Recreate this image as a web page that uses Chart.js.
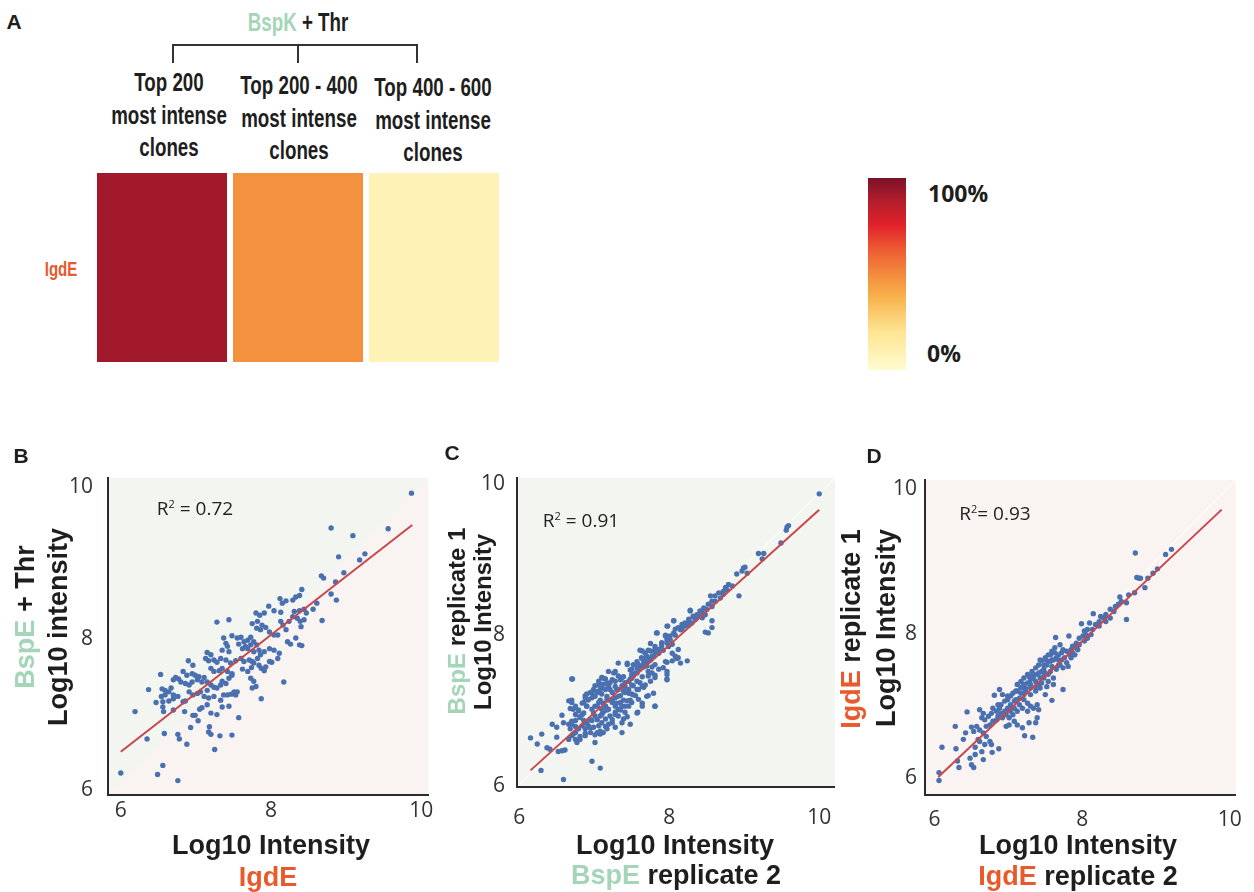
<!DOCTYPE html>
<html>
<head>
<meta charset="utf-8">
<title>IgdE / BspE clone intensities</title>
<script src="https://cdn.jsdelivr.net/npm/chart.js@4.4.1/dist/chart.umd.min.js"></script>
<style>
  html, body { margin: 0; padding: 0; background: #fff; }
  #page { position: relative; width: 1254px; height: 892px; overflow: hidden;
          font-family: "Liberation Sans", Arial, sans-serif; color: #1e1e1e; }
  #page canvas { position: absolute; }
  .t { position: absolute; white-space: nowrap; line-height: 1; font-weight: bold;
       transform: translate(-50%, -50%); }
  .rot { transform: translate(-50%, -50%) rotate(-90deg); }
  .narrow { transform: translate(-50%, -50%) scaleX(0.75); }
  .tl { position: absolute; white-space: nowrap; line-height: 1; font-weight: bold;
        font-family: "Open Sans", sans-serif; transform: translateY(-50%); }
  .hdr { position: absolute; white-space: nowrap; font-weight: bold; font-size: 25px;
         line-height: 32.5px; text-align: center; transform: translateX(-50%) scaleX(0.75); }
  .green { color: #a4d5b8; }
  .orange { color: #e9592c; }
  .r2 { position: absolute; white-space: nowrap; line-height: 1; font-family: "Open Sans", sans-serif;
        font-size: 19px; color: #222; transform: translate(-50%, -50%); }
  .r2 sup { font-size: 11px; vertical-align: 7px; line-height: 0; }
  #cbar { position: absolute; left: 868px; top: 178px; width: 38px; height: 192px; }
</style>
</head>
<body>
<div id="page">
  <!-- panel A -->
  <div class="t" style="left:14px;top:21px;font-size:21px;">A</div>
  <div class="t narrow" style="left:298px;top:22px;font-size:25px;"><span class="green">BspK</span> + Thr</div>
  <svg style="position:absolute;left:0;top:0;" width="500" height="80">
    <path d="M173 63 V45 H417 V63 M298 45 V63" fill="none" stroke="#333" stroke-width="2"/>
  </svg>
  <div id="headers"></div>
  <div class="t narrow orange" id="rowLabel" style="left:61px;top:269px;font-size:20px;"></div>
  <canvas id="heat" width="408" height="189" style="left:94px;top:173px;"></canvas>
  <div id="cbar"></div>
  <div class="tl" style="left:928px;top:193px;font-size:23px;">100%</div>
  <div class="tl" style="left:927px;top:353px;font-size:23px;">0%</div>

  <!-- panels B, C, D -->
  <canvas id="chartB" width="440" height="460" style="left:0;top:430px;"></canvas>
  <canvas id="chartC" width="410" height="460" style="left:440px;top:430px;"></canvas>
  <canvas id="chartD" width="404" height="460" style="left:850px;top:430px;"></canvas>

  <div class="t" style="left:21px;top:455px;font-size:21px;">B</div>
  <div class="r2" style="left:195px;top:508px;">R<sup>2</sup> = 0.72</div>
  <div class="t rot" style="left:25px;top:617px;font-size:27px;"><span class="green">BspE</span> + Thr</div>
  <div class="t rot" style="left:58px;top:627px;font-size:27px;">Log10 intensity</div>
  <div class="t" style="left:271px;top:845px;font-size:27px;">Log10 Intensity</div>
  <div class="t orange" style="left:268px;top:877px;font-size:27px;">IgdE</div>

  <div class="t" style="left:452px;top:452px;font-size:21px;">C</div>
  <div class="r2" style="left:581px;top:520px;">R<sup>2</sup> = 0.91</div>
  <div class="t rot" style="left:457px;top:621px;font-size:24px;"><span class="green">BspE</span> replicate 1</div>
  <div class="t rot" style="left:483px;top:622px;font-size:24px;">Log10 Intensity</div>
  <div class="t" style="left:675px;top:845px;font-size:27px;">Log10 Intensity</div>
  <div class="t" style="left:676px;top:875px;font-size:27px;"><span class="green">BspE</span> replicate 2</div>

  <div class="t" style="left:874px;top:455px;font-size:21px;">D</div>
  <div class="r2" style="left:995px;top:513px;">R<sup>2</sup>= 0.93</div>
  <div class="t rot" style="left:851px;top:629px;font-size:27px;"><span class="orange">IgdE</span> replicate 1</div>
  <div class="t rot" style="left:886px;top:628px;font-size:27px;">Log10 Intensity</div>
  <div class="t" style="left:1078px;top:845px;font-size:27px;">Log10 Intensity</div>
  <div class="t" style="left:1078px;top:876px;font-size:27px;"><span class="orange">IgdE</span> replicate 2</div>
</div>

<script>
// ---- data ----
const axisTicks = [6, 8, 10];

const cloneGroups = [
  ['Top 200', 'most intense', 'clones'],
  ['Top 200 - 400', 'most intense', 'clones'],
  ['Top 400 - 600', 'most intense', 'clones']
];
const heatRowLabel = 'IgdE';
const heatRow = [92, 48, 8]; // position on the 0-100% colour scale

// BspE + Thr (y) vs IgdE (x), log10 intensity
const scatterB = [
  [9.87,9.92],[8.80,9.46],[9.09,9.36],[9.56,9.45],[8.90,9.08],[9.25,9.12],[9.18,9.04],[8.67,8.83],[8.70,8.80],[8.97,8.87],
  [8.86,8.75],[8.80,8.59],[8.87,8.51],[8.61,8.47],[8.56,8.39],[8.68,8.24],[8.12,8.53],[8.15,8.47],[8.20,8.50],[8.29,8.51],
  [8.33,8.55],[8.38,8.57],[8.41,8.65],[7.97,8.43],[8.04,8.37],[8.13,8.35],[8.31,8.36],[8.38,8.37],[8.44,8.39],[8.47,8.34],
  [7.80,8.34],[7.85,8.31],[7.91,8.34],[7.75,8.20],[7.82,8.23],[7.88,8.18],[7.81,8.14],[7.86,8.12],[7.93,8.15],[7.98,8.09],
  [8.04,8.05],[8.09,8.05],[8.13,8.23],[8.16,8.18],[8.20,8.12],[8.24,8.23],[8.29,8.29],[8.35,8.27],[8.39,8.23],[8.44,8.25],
  [8.40,8.16],[7.28,8.22],[7.44,8.25],[7.48,8.04],[7.55,8.01],[7.60,8.02],[7.64,7.96],[7.69,7.98],[7.73,8.02],[7.77,7.96],
  [7.81,7.92],[7.73,7.92],[7.66,7.90],[7.62,7.87],[7.57,7.93],[7.37,8.01],[7.40,7.94],[7.42,7.90],[7.35,7.85],[7.44,7.83],
  [7.15,7.82],[7.20,7.79],[7.13,7.74],[7.17,7.71],[7.24,7.72],[7.28,7.69],[7.33,7.74],[7.40,7.72],[7.46,7.68],[7.53,7.71],
  [7.60,7.74],[7.64,7.70],[7.71,7.72],[7.75,7.70],[7.82,7.74],[7.86,7.79],[7.91,7.83],[7.98,7.87],[8.04,7.85],[8.11,7.81],
  [7.69,7.87],[7.77,7.83],[7.84,7.85],[8.22,7.96],[8.26,7.93],[8.33,8.01],[8.38,7.92],[8.41,7.91],[8.09,7.74],[7.98,7.70],
  [8.01,7.69],[7.93,7.63],[7.87,7.61],[7.91,7.58],[7.84,7.65],[7.77,7.68],[7.74,7.62],[7.69,7.57],[7.62,7.60],[7.48,7.54],
  [7.42,7.57],[7.35,7.61],[7.31,7.58],[7.24,7.57],[7.20,7.61],[6.90,7.71],[6.96,7.65],[6.83,7.57],[6.88,7.52],[6.95,7.54],
  [6.99,7.52],[7.04,7.50],[7.11,7.49],[7.15,7.43],[7.08,7.43],[7.02,7.46],[6.95,7.43],[6.91,7.39],[6.86,7.41],[6.80,7.43],
  [6.77,7.47],[6.73,7.49],[6.70,7.46],[6.67,7.35],[6.64,7.30],[6.59,7.32],[6.55,7.34],[6.53,7.53],[6.54,7.24],[6.59,7.26],
  [6.70,7.26],[6.37,7.33],[6.47,7.16],[6.56,7.17],[6.64,7.18],[6.70,7.21],[6.76,7.24],[6.91,7.30],[6.96,7.26],[7.02,7.28],
  [7.06,7.30],[7.15,7.32],[7.20,7.39],[7.24,7.36],[7.28,7.35],[7.33,7.39],[7.35,7.44],[7.40,7.41],[7.44,7.48],[7.48,7.52],
  [7.11,7.24],[7.17,7.22],[7.24,7.24],[7.33,7.19],[7.37,7.26],[7.42,7.26],[7.47,7.27],[7.53,7.26],[7.55,7.30],[7.51,7.30],
  [7.73,7.48],[7.77,7.44],[7.75,7.35],[7.80,7.37],[7.87,7.21],[8.17,7.43],[6.19,7.04],[6.56,7.10],[6.57,7.04],[6.70,7.06],
  [6.83,7.17],[6.86,7.18],[6.85,7.04],[6.96,6.99],[6.99,6.99],[7.05,7.07],[7.08,7.09],[7.15,7.13],[7.20,7.02],[7.28,7.00],
  [7.35,7.10],[7.44,7.11],[6.93,6.83],[7.03,6.92],[7.18,6.84],[7.17,6.77],[7.20,6.74],[7.32,6.72],[7.48,6.73],[7.57,6.96],
  [6.35,6.68],[6.58,6.75],[6.76,6.74],[6.78,6.68],[6.88,6.61],[7.25,6.54],[6.00,6.23],[6.49,6.21],[6.56,6.33],[6.76,6.13]
];
const fitB = [[6.00, 6.51], [9.88, 9.50]];

// BspE replicate 1 (y) vs replicate 2 (x)
const scatterC = [
  [10.00,9.87],[9.57,9.43],[9.59,9.45],[9.56,9.39],[9.49,9.22],[9.19,9.08],[9.26,9.08],[9.24,9.01],[8.90,8.81],[8.99,8.89],
  [9.01,8.90],[8.97,8.85],[9.04,8.82],[8.93,8.52],[8.79,8.67],[8.75,8.63],[8.72,8.58],[8.66,8.56],[8.61,8.52],[8.55,8.52],
  [8.57,8.45],[8.52,8.41],[8.46,8.36],[8.41,8.32],[8.37,8.27],[8.32,8.25],[8.28,8.32],[8.26,8.21],[8.21,8.16],[8.17,8.14],
  [8.12,8.10],[8.08,8.08],[8.48,8.27],[8.44,8.23],[8.57,8.19],[8.57,8.10],[8.52,8.03],[8.48,8.04],[8.06,8.19],[7.98,8.12],
  [7.83,8.03],[7.95,7.99],[8.01,7.94],[8.04,7.88],[7.97,7.90],[7.90,7.86],[7.86,7.81],[7.81,7.77],[7.75,7.79],[7.70,7.72],
  [7.64,7.79],[7.63,7.70],[7.66,7.64],[7.59,7.61],[8.12,7.81],[8.24,7.66],[8.12,7.70],[8.08,7.72],[8.04,7.66],[7.97,7.64],
  [7.92,7.57],[7.86,7.55],[7.81,7.61],[7.97,7.48],[7.97,7.42],[7.81,7.44],[7.77,7.50],[7.72,7.46],[7.70,7.59],[7.44,7.61],
  [7.50,7.55],[7.57,7.50],[7.52,7.46],[7.48,7.42],[7.41,7.37],[7.37,7.33],[7.46,7.28],[7.41,7.24],[7.35,7.20],[7.28,7.17],
  [7.24,7.24],[7.26,7.50],[7.32,7.46],[7.37,7.44],[7.28,7.39],[7.21,7.37],[7.15,7.42],[7.10,7.44],[7.06,7.39],[7.01,7.33],
  [6.99,7.28],[7.04,7.24],[7.10,7.22],[7.15,7.28],[7.19,7.33],[6.71,7.42],[7.61,7.37],[7.66,7.31],[7.55,7.20],[7.59,7.15],
  [7.50,7.11],[7.46,7.06],[7.37,7.06],[7.32,7.02],[7.28,6.98],[7.21,6.93],[7.15,6.89],[7.10,6.84],[7.06,6.80],[7.04,6.71],
  [7.08,6.69],[7.72,7.20],[7.64,7.06],[7.58,6.98],[7.48,6.82],[7.37,6.71],[7.28,6.78],[7.24,6.84],[7.81,7.06],[6.88,7.20],
  [6.92,7.15],[6.97,7.17],[6.90,7.06],[6.97,7.02],[7.01,7.06],[7.06,7.11],[7.10,7.02],[7.15,7.06],[7.19,7.02],[7.08,6.93],
  [7.01,6.93],[6.97,6.87],[6.90,6.84],[6.84,6.80],[6.79,6.76],[6.75,6.71],[6.70,6.67],[6.66,7.13],[6.70,7.11],[6.75,7.06],
  [6.72,7.02],[6.79,7.00],[6.84,6.95],[6.81,6.91],[6.75,6.87],[6.70,6.82],[6.57,6.94],[6.59,6.84],[6.66,6.82],[6.68,6.76],
  [6.72,6.69],[6.66,6.62],[6.75,6.62],[6.81,6.62],[6.88,6.67],[6.95,6.71],[7.01,6.58],[6.77,6.58],[6.44,6.82],[6.50,6.78],
  [6.30,6.69],[6.15,6.64],[6.24,6.56],[6.37,6.51],[6.41,6.49],[6.52,6.46],[6.57,6.47],[6.61,6.48],[6.50,6.65],[6.29,6.21],
  [6.59,6.09],[6.97,6.33],[7.08,6.24],[6.88,6.76],[6.92,6.80],[7.17,6.76],[7.12,6.71],[8.17,8.08],[8.21,8.12],[8.26,8.13],
  [8.30,8.16],[8.35,8.21],[8.39,8.25],[8.44,8.30],[8.50,8.34],[8.57,8.38],[8.61,8.45],[8.68,8.49],[8.72,8.54],[8.77,8.60],
  [8.84,8.65],[7.77,7.72],[7.81,7.81],[7.90,7.90],[7.97,7.94],[8.01,7.99],[8.06,8.03],[7.72,7.68],[7.68,7.66],[7.64,7.59],
  [7.57,7.57],[7.50,7.48],[7.12,7.35],[7.08,7.28],[6.95,7.24],[6.90,7.22],[6.86,7.11],[7.24,7.11],[7.28,7.06],[7.32,6.93],
  [7.41,6.98],[7.39,6.89],[7.19,6.82],[6.99,6.78],[6.86,6.87],[7.12,6.98],[7.17,7.15],[7.30,7.28],[7.39,7.26],[7.52,7.33],
  [7.57,7.28],[7.50,7.22],[7.44,7.13],[7.35,7.11],
  // dense core
  [8.28,8.33],[8.32,8.24],[8.26,8.16],[8.19,8.13],[8.15,8.07],[8.06,8.19],[7.97,8.12],[8.08,8.00],[8.01,7.94],[7.95,8.00],
  [7.90,7.89],[7.84,8.03],[7.81,7.85],[7.75,7.89],[7.72,7.80],[7.68,7.76],[7.61,7.80],[7.64,7.69],[7.57,7.65],[7.52,7.61],
  [7.48,7.54],[7.44,7.63],[7.32,7.63],[7.28,7.52],[7.24,7.41],[7.19,7.52],[7.17,7.36],[7.12,7.43],[7.10,7.30],[7.06,7.34],
  [7.04,7.25],[7.01,7.19],[6.97,7.23],[6.92,7.14],[6.90,7.06],[6.88,7.17],[6.84,7.10],[6.79,7.01],[6.75,6.95],[6.70,7.14],
  [6.68,7.03],[6.70,6.86],[6.75,6.79],[6.81,6.92],[6.86,6.97],[6.88,6.84],[6.95,6.88],[6.99,6.97],[7.04,7.06],[7.08,7.14],
  [7.12,7.10],[7.17,7.19],[7.21,7.28],[7.28,7.32],[7.35,7.41],[7.39,7.45],[7.41,7.32],[7.46,7.39],[7.50,7.43],[7.55,7.50],
  [7.59,7.56],[7.66,7.58],[7.70,7.63],[7.75,7.67],[7.79,7.72],[7.86,7.76],[7.92,7.80],[7.99,7.85],[8.04,7.76],[8.10,7.69],
  [7.95,7.65],[7.97,7.52],[7.97,7.41],[8.15,7.63],[7.81,7.47],[7.75,7.39],[7.68,7.34],[7.59,7.28],[7.52,7.21],[7.48,7.14],
  [7.41,7.06],[7.35,7.01],[7.28,6.95],[7.24,6.88],[7.15,6.79],[7.08,6.73],[7.01,6.68],[7.37,6.84],[7.44,6.92],[7.57,6.97],
  [7.64,7.10],[7.70,7.19],[7.79,7.23],[7.81,7.06],[6.70,7.42],[7.32,7.28],[7.24,7.14],[7.17,7.01],[7.10,6.95],[7.04,6.88],
  [6.95,6.77],[6.88,6.70],[6.81,6.66],[7.50,7.34],[7.57,7.39],[7.64,7.45],[7.46,7.23],[7.39,7.14],[7.30,7.10],[7.32,7.19],
  [7.19,7.14],[7.15,7.06],[7.64,7.32],[7.72,7.52],[7.77,7.58]
];
const fitC = [[6.15, 6.21], [10.00, 9.66]];

// IgdE replicate 1 (y) vs replicate 2 (x)
const scatterD = [
  [8.72,9.12],[9.13,9.10],[9.21,9.17],[8.74,8.78],[8.77,8.77],[8.79,8.77],[8.85,8.64],[8.89,8.77],[8.96,8.84],[9.02,8.90],
  [8.51,8.51],[8.63,8.54],[8.60,8.43],[8.60,8.20],[8.15,8.28],[8.25,8.24],[8.29,8.22],[8.23,8.17],[8.18,8.13],[8.14,8.06],
  [8.10,8.15],[7.99,8.14],[8.03,8.04],[8.01,7.97],[8.05,7.99],[7.96,7.94],[7.92,7.87],[7.87,7.83],[7.85,7.78],[7.64,7.95],
  [7.82,7.97],[7.74,7.78],[7.79,7.76],[7.72,7.74],[7.68,7.71],[7.63,7.81],[7.61,7.64],[7.57,7.62],[7.52,7.63],[7.48,7.57],
  [7.45,7.63],[7.59,7.55],[7.65,7.51],[7.70,7.57],[7.79,7.60],[7.81,7.55],[7.74,7.53],[7.39,7.44],[7.34,7.39],[7.30,7.37],
  [7.26,7.32],[7.28,7.41],[7.37,7.34],[7.43,7.39],[7.50,7.46],[7.54,7.44],[7.45,7.48],[7.54,7.34],[7.61,7.30],[7.52,7.27],
  [7.43,7.25],[7.37,7.21],[7.30,7.16],[7.23,7.21],[7.17,7.18],[7.15,7.11],[7.08,7.07],[7.03,7.02],[6.88,7.23],[6.81,7.15],
  [6.92,7.16],[6.99,7.14],[7.06,7.18],[7.12,7.21],[7.21,7.09],[7.26,7.04],[7.30,7.00],[7.34,6.97],[7.39,7.02],[7.41,6.95],
  [7.26,6.93],[7.19,6.97],[7.12,6.93],[7.08,6.97],[7.03,6.93],[6.97,6.88],[6.90,6.90],[6.86,6.86],[7.50,7.16],[7.59,7.08],
  [7.74,7.23],[7.39,6.84],[7.28,6.77],[7.37,6.77],[7.22,6.59],[7.33,6.57],[7.19,6.70],[7.12,6.74],[7.08,6.79],[7.01,6.74],
  [6.97,6.72],[6.92,6.84],[6.61,6.95],[6.66,6.90],[6.64,6.84],[6.68,6.81],[6.73,6.86],[6.77,6.90],[6.79,6.97],[6.84,6.93],
  [6.44,6.92],[6.28,6.72],[6.42,6.63],[6.50,6.71],[6.57,6.72],[6.53,6.65],[6.61,6.67],[6.66,6.63],[6.59,6.54],[6.70,6.58],
  [6.75,6.51],[6.77,6.47],[6.68,6.47],[6.55,6.43],[6.64,6.37],[6.55,6.33],[6.48,6.28],[6.50,6.19],[6.53,6.15],[6.66,6.26],
  [6.78,6.36],[6.87,6.41],[6.61,6.51],[6.10,6.43],[6.29,6.41],[6.39,6.54],[6.31,6.24],[6.33,6.15],[6.06,6.08],[6.06,5.97],
  [7.01,6.84],[7.06,6.88],[6.99,6.97],[6.90,7.02],[6.86,7.02],[7.68,7.64],[7.85,7.67],[7.90,7.71],[7.94,7.78],[8.07,8.06],
  [8.32,8.27],[8.38,8.34],[8.45,8.38],[8.53,8.45],[8.71,8.57],[7.48,7.39],[7.41,7.30],[7.21,7.30],[7.17,7.25],[7.57,7.71],
  [7.70,7.85],
  // dense core
  [7.17,7.34],[7.21,7.39],[7.26,7.44],[7.32,7.48],[7.37,7.53],[7.41,7.57],[7.43,7.64],[7.50,7.67],[7.54,7.71],[7.59,7.76],
  [7.63,7.74],[7.65,7.67],[7.59,7.64],[7.52,7.57],[7.48,7.51],[7.41,7.46],[7.34,7.44],[7.30,7.30],[7.23,7.25],[7.19,7.27],
  [7.12,7.30],[7.10,7.21],[7.03,7.14],[6.99,7.09],[6.95,7.07],[7.01,6.97],[6.95,6.93],[6.88,6.97],[6.84,6.81],[6.79,6.79],
  [6.75,6.74],[6.70,6.72],[7.10,7.09],[7.15,7.02],[7.21,7.16],[7.30,7.25],[7.37,7.27],[7.45,7.32],[7.48,7.41],[7.57,7.48],
  [7.61,7.39],[7.68,7.57],[7.72,7.64],[7.76,7.67],[7.83,7.71],[7.87,7.74],[7.92,7.81],[7.96,7.85],[8.03,7.90],[8.07,7.94],
  [8.12,7.99],[8.23,8.11],[8.32,8.17],[8.38,8.22],[8.43,8.31],[8.49,8.41]
];
const fitD = [[6.05, 6.02], [9.89, 9.72]];

// ---- colour scale (0 = bottom, 1 = top) ----
const heatStops = [
  [0, '#fffbd0'], [0.2, '#fde592'], [0.38, '#f8b24c'], [0.48, '#f4913f'],
  [0.62, '#ee5f34'], [0.75, '#e2232b'], [0.88, '#b41d2b'], [1, '#7a1227']
];

function hexRgb(h) {
  const n = parseInt(h.slice(1), 16);
  return [(n >> 16) & 255, (n >> 8) & 255, n & 255];
}
function heatColor(pct) {
  const t = Math.max(0, Math.min(1, pct / 100));
  for (let i = 1; i < heatStops.length; i++) {
    const [t1, c1] = heatStops[i];
    if (t <= t1) {
      const [t0, c0] = heatStops[i - 1];
      const f = (t - t0) / (t1 - t0);
      const a = hexRgb(c0), b = hexRgb(c1);
      return `rgb(${a.map((v, k) => Math.round(v + (b[k] - v) * f)).join(',')})`;
    }
  }
  return heatStops[heatStops.length - 1][1];
}

document.getElementById('cbar').style.background =
  'linear-gradient(to top, ' + heatStops.map(([t, c]) => `${c} ${t * 100}%`).join(', ') + ')';

// column headers of the heat map
const headerPos = [[169, 66], [299, 69], [433, 71]];
const headers = document.getElementById('headers');
cloneGroups.forEach((lines, i) => {
  const d = document.createElement('div');
  d.className = 'hdr';
  d.style.left = headerPos[i][0] + 'px';
  d.style.top = headerPos[i][1] + 'px';
  d.innerHTML = lines.join('<br>');
  headers.appendChild(d);
});
document.getElementById('rowLabel').textContent = heatRowLabel;

// ---- heat map (one row, three cells) ----
const cellSpan = [0, 1];
new Chart(document.getElementById('heat'), {
  type: 'bar',
  data: {
    labels: cloneGroups.map(g => g.join(' ')),
    datasets: [{
      label: heatRowLabel,
      data: heatRow.map(() => cellSpan),
      backgroundColor: heatRow.map(heatColor),
      borderWidth: 0,
      barPercentage: 1,
      categoryPercentage: 130 / 136
    }]
  },
  options: {
    responsive: false, animation: false, events: [],
    layout: { padding: 0 },
    plugins: { legend: { display: false }, tooltip: { enabled: false } },
    scales: {
      x: { display: false },
      y: { display: false, min: 0, max: 1 }
    }
  }
});

// ---- scatter panels ----
const panelBg = {
  id: 'panelBg',
  beforeDraw(chart, args, o) {
    const { ctx, chartArea: a } = chart;
    ctx.save();
    ctx.fillStyle = o.lower;
    ctx.fillRect(a.left, a.top, a.width, a.height);
    ctx.fillStyle = o.upper;
    ctx.beginPath();
    ctx.moveTo(a.left, a.bottom);
    ctx.lineTo(a.left, a.top);
    ctx.lineTo(a.right, a.top);
    ctx.closePath();
    ctx.fill();
    if (o.diag) {
      ctx.strokeStyle = o.diag;
      ctx.lineWidth = 1.5;
      ctx.beginPath();
      ctx.moveTo(a.left, a.bottom);
      ctx.lineTo(a.right, a.top);
      ctx.stroke();
    }
    ctx.restore();
  }
};

function scatterPanel(id, pts, fit, xr, yr, lay, bg) {
  const tickFont = { family: 'Open Sans', size: 21 };
  const axis = (range, extra) => Object.assign({
    type: 'linear', min: range[0], max: range[1],
    afterBuildTicks: s => { s.ticks = axisTicks.map(v => ({ value: v })); },
    grid: { display: false, drawTicks: false },
    border: { display: true, color: '#2b2b2b', width: 2 }
  }, extra);
  return new Chart(document.getElementById(id), {
    type: 'scatter',
    data: {
      datasets: [
        { data: fit.map(([x, y]) => ({ x, y })), showLine: true, borderColor: '#c9474b',
          borderWidth: 2, pointRadius: 0, order: 0 },
        { data: pts.map(([x, y]) => ({ x, y })), backgroundColor: '#4a70b0',
          borderWidth: 0, pointRadius: 2.7, order: 1 }
      ]
    },
    options: {
      responsive: false, animation: false, events: [],
      layout: { padding: lay.pad },
      plugins: { legend: { display: false }, tooltip: { enabled: false }, panelBg: bg },
      scales: {
        x: axis(xr, {
          afterFit: s => { s.height = lay.xh; },
          ticks: { padding: lay.xpad, font: tickFont, color: '#333', maxRotation: 0 }
        }),
        y: axis(yr, {
          afterFit: s => { s.width = lay.yw; },
          ticks: { padding: lay.ypad, font: tickFont, color: '#333' }
        })
      }
    },
    plugins: [panelBg]
  });
}

scatterPanel('chartB', scatterB, fitB, [5.83, 10.09], [5.94, 10.12],
  { pad: { left: 0, top: 48, right: 12, bottom: 0 }, yw: 108, xh: 95, xpad: 3, ypad: 15 },
  { upper: '#f3f6f0', lower: '#f9f4f1' });

scatterPanel('chartC', scatterC, fitC, [5.97, 10.21], [5.99, 10.08],
  { pad: { left: 0, top: 48, right: 15, bottom: 0 }, yw: 77, xh: 103, xpad: 18, ypad: 12 },
  { upper: '#f3f6f0', lower: '#f3f6f0', diag: '#fbfcfa' });

scatterPanel('chartD', scatterD, fitD, [5.87, 10.08], [5.77, 10.13],
  { pad: { left: 0, top: 50, right: 11, bottom: 0 }, yw: 75, xh: 95, xpad: 12, ypad: 8 },
  { upper: '#f9f4f1', lower: '#f9f4f1', diag: '#fdfaf8' });
</script>
</body>
</html>
